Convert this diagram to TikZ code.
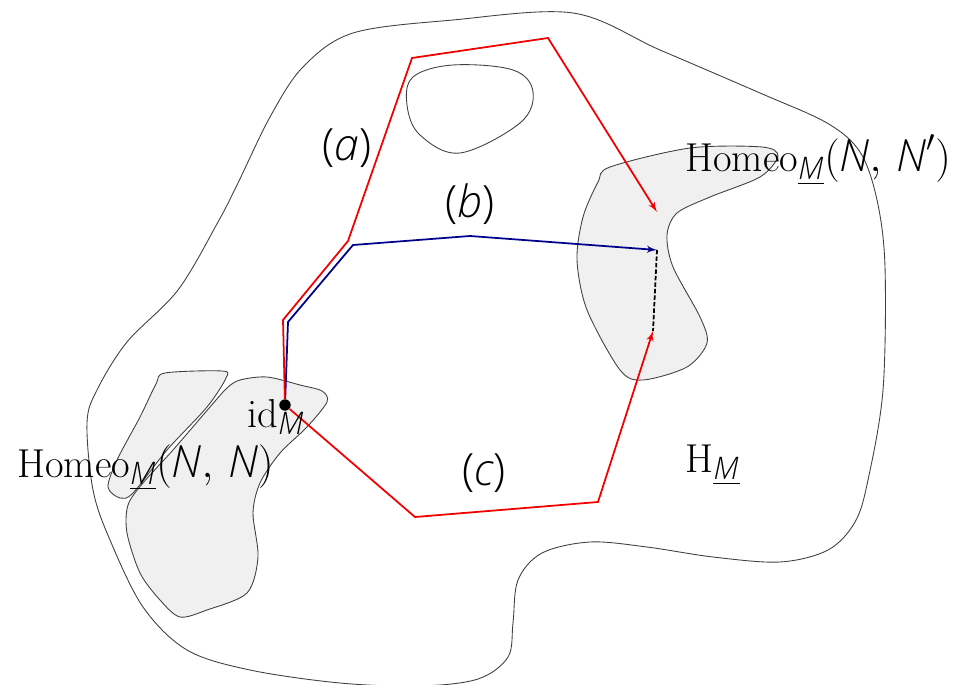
\documentclass[tikz,border=0pt]{standalone}
\usepackage{amsmath,amssymb}
\usepackage{fontspec}
\setsansfont{Open Sans Light}[ItalicFont={Open Sans Light Italic}, Scale=1.1]
\usepackage{xcolor}
\usepackage{tikz}
\usetikzlibrary{arrows, positioning}
\newcommand{\sv}[1]{\textsf{\textit{#1}}}

\begin{document}
\begin{tikzpicture}[x=0.02cm, y=-0.02cm, font=\fontsize{23}{28}\selectfont]
    \tikzstyle{region} = [draw=black!75, line width=0.5pt]
    \tikzstyle{homset} = [region, fill=black!6]
    \tikzstyle{lab} = [inner sep=0pt]
    \tikzstyle{redpath} = [draw, -latex', line width=1pt, red!95!black]
    \tikzstyle{bluepath} = [draw, -latex', line width=1pt, blue!55!black]

    \useasboundingbox (0,0) rectangle (962,685);

    \draw [region] plot [smooth cycle, tension=0.55] coordinates {(573,13) (660,50) (760,93) (827,123) (860,152) (877,200) (885,267) (883,390) (868,480) (855,522) (828,550) (780,562) (713,557) (647,547) (590,542) (542,553) (518,580) (513,623) (508,657) (478,679) (420,686) (340,683) (250,670) (187,650) (143,607) (110,540) (93,490) (87,423) (97,390) (127,342) (178,290) (218,222) (238,183) (270,117) (303,67) (353,33) (453,20)};
    \draw [region] plot [smooth cycle, tension=0.6] coordinates {(413,77) (453,65) (513,70) (533,92) (520,123) (460,153) (420,135) (407,105)};
    \draw [homset] plot [smooth cycle, tension=0.5] coordinates {(610,167) (690,148) (762,147) (778,156) (760,177) (710,197) (677,213) (667,235) (673,267) (700,317) (707,343) (687,367) (643,380) (620,370) (587,310) (577,260) (583,217) (598,182)};
    \draw [homset] plot [smooth cycle, tension=0.5] coordinates {(165,373) (222,371) (226,378) (207,407) (167,450) (133,493) (120,498) (108,487) (117,460) (140,417) (156,384)};
    \draw [homset] plot [smooth cycle, tension=0.5] coordinates {(240,380) (267,377) (300,385) (322,391) (327,402) (307,427) (280,453) (260,483) (253,513) (258,557) (247,593) (207,610) (180,617) (160,600) (140,573) (127,533) (128,505) (143,483) (173,450) (210,407) (227,388)};

    \node [circle, fill, inner sep=0pt, minimum size=6.5pt] (idm) at (285,405) {};
    \coordinate (tipa) at (657,212);
    \coordinate (tipb) at (657,250);
    \coordinate (tipc) at (653,331);

    \path [bluepath] (idm) -- (288,322) -- (353,245) -- (470,236) -- (tipb);
    \path [redpath] (idm) -- (283,320) -- (348,241) -- (412,58) -- (548,38) -- (tipa);
    \path [redpath] (idm) -- (415,517) -- (598,502) -- (tipc);
    \draw [line width=1pt, dash pattern=on 2.5pt off 1.2pt] (tipb) -- (tipc);

    \node [lab] (la) at (347,148) {\textsf{(\textit{a})}};
    \node [lab] (lb) at (470,204) {\textsf{(\textit{b})}};
    \node [lab] (lc) at (484,473) {\textsf{(\textit{c})}};
    \node [lab, anchor=base west] (idlab) at (247,427) {$\mathrm{id}_{\sv{M}}$};
    \node [lab, anchor=base west] (homnn) at (17,477) {$\mathrm{Homeo}_{\underline{\sv{M}}}(\sv{N},\,\sv{N})$};
    \node [lab, anchor=base west] (homnn2) at (685,172) {$\mathrm{Homeo}_{\underline{\sv{M}}}(\sv{N},\,\sv{N}')$};
    \node [lab, anchor=base west] (hm) at (685,472) {$\mathrm{H}_{\underline{\sv{M}}}$};
\end{tikzpicture}
\end{document}
